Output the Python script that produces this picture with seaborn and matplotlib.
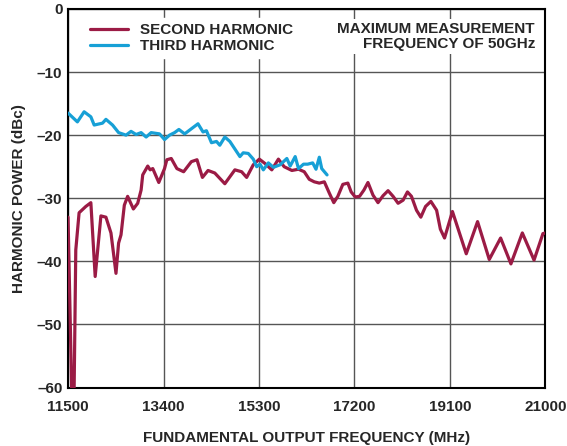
import numpy as np
import pandas as pd
import seaborn as sns
import matplotlib.pyplot as plt

# ─────────────────────────────────────────
# DATA
# ─────────────────────────────────────────
freq_2nd = [11500, 11574, 11620, 11654, 11720, 11854, 11954, 12040, 12154, 12254,
            12354, 12454, 12506, 12554, 12620, 12686, 12800, 12886, 12954, 12986,
            13086, 13134, 13186, 13306, 13420, 13466, 13554, 13666, 13800, 13954,
            14066, 14174, 14286, 14420, 14620, 14820, 14954, 15054, 15186, 15306,
            15420, 15554, 15686, 15800, 15954, 16086, 16200, 16300, 16400, 16500,
            16600, 16700, 16788, 16868, 16968, 17068, 17134, 17214, 17300, 17388,
            17468, 17568, 17668, 17768, 17868, 17968, 18068, 18168, 18254, 18334,
            18434, 18520, 18614, 18720, 18834, 18909, 18992, 19149, 19424, 19649,
            19882, 20108, 20313, 20540, 20773, 20950, 21000]
power_2nd = [-33.0, -61.0, -61.0, -38.2, -32.3, -31.3, -30.7, -42.4, -32.8, -33.0,
             -35.5, -41.9, -37.1, -35.8, -31.1, -29.7, -31.7, -30.8, -28.7, -26.3,
             -24.9, -25.5, -25.3, -27.5, -25.3, -23.9, -23.7, -25.3, -25.8, -24.2,
             -23.9, -26.7, -25.6, -26.0, -27.7, -25.5, -25.8, -26.7, -24.7, -23.8,
             -24.5, -25.5, -23.8, -25.0, -25.6, -25.4, -25.8, -27.0, -27.4, -27.6,
             -27.4, -29.2, -30.7, -29.7, -27.8, -27.6, -29.0, -29.8, -29.7, -28.7,
             -27.5, -29.5, -30.7, -29.6, -28.8, -29.7, -30.8, -30.3, -29.0, -29.7,
             -31.9, -33.0, -31.3, -30.5, -31.9, -34.9, -36.3, -32.1, -38.8, -33.7,
             -39.7, -36.3, -40.4, -35.5, -39.8, -35.6, -35.5]

freq_3rd = [11500, 11686, 11820, 11954, 12020, 12186, 12254, 12386, 12506, 12654,
            12754, 12854, 12954, 13054, 13154, 13320, 13420, 13520, 13620, 13706,
            13820, 13986, 14086, 14186, 14254, 14354, 14454, 14520, 14620, 14720,
            14920, 14986, 15086, 15186, 15254, 15320, 15386, 15486, 15586, 15720,
            15854, 15920, 16020, 16086, 16186, 16268, 16368, 16434, 16500, 16548,
            16654]
power_3rd = [-16.5, -17.9, -16.3, -17.1, -18.4, -18.1, -17.5, -18.4, -19.6, -20.0,
             -19.4, -19.9, -19.6, -20.3, -19.6, -19.8, -20.7, -20.0, -19.6, -19.1,
             -19.8, -18.8, -18.2, -19.5, -19.3, -21.2, -21.0, -21.6, -20.3, -21.0,
             -23.4, -22.8, -22.9, -23.8, -25.0, -24.6, -25.5, -24.4, -25.1, -24.7,
             -23.7, -24.9, -23.4, -25.3, -24.6, -24.6, -24.4, -25.4, -23.5, -25.3,
             -26.3]

series_names = ["SECOND HARMONIC", "THIRD HARMONIC"]
x_ticks = [11500, 13400, 15300, 17200, 19100, 21000]
y_ticks = [0, -10, -20, -30, -40, -50, -60]

df = pd.concat([
    pd.DataFrame({"freq": freq_2nd, "power": power_2nd, "series": series_names[0]}),
    pd.DataFrame({"freq": freq_3rd, "power": power_3rd, "series": series_names[1]}),
], ignore_index=True)

# ─────────────────────────────────────────
# PLOT
# ─────────────────────────────────────────
sns.set_style("white")
plt.rcParams["font.family"] = ["Liberation Sans", "DejaVu Sans"]
plt.rcParams["font.weight"] = "bold"
FS = 11

fig = plt.figure(figsize=(5.67, 4.46), dpi=100)
ax = fig.add_axes([0.12, 0.131, 0.842, 0.849])

palette = {series_names[0]: "#9b1b45", series_names[1]: "#17a0d6"}
sns.lineplot(data=df, x="freq", y="power", hue="series", palette=palette,
             estimator=None, sort=False, linewidth=2.3, ax=ax, zorder=3)
for ln in ax.get_lines():
    ln.set_solid_joinstyle("round")

ax.set_xlim(11500, 21000)
ax.set_ylim(-60, 0)
ax.set_xticks(x_ticks)
ax.set_yticks(y_ticks)
ax.set_xticklabels([str(t) for t in x_ticks], fontsize=FS, fontweight="bold")
ax.set_yticklabels([str(t).replace("-", "\u2013") for t in y_ticks],
                   fontsize=FS, fontweight="bold")
ax.tick_params(axis="x", length=0, pad=9)
ax.tick_params(axis="y", length=0, pad=4)
ax.grid(True, color="#555555", linewidth=1.0)
ax.set_axisbelow(True)
for sp in ax.spines.values():
    sp.set_color("black")
    sp.set_linewidth(1.5)

ax.set_xlabel("FUNDAMENTAL OUTPUT FREQUENCY (MHz)", fontsize=FS,
              fontweight="bold", labelpad=12)
ax.set_ylabel("HARMONIC POWER (dBc)", fontsize=FS, fontweight="bold", labelpad=8)

handles, labels = ax.get_legend_handles_labels()
leg = ax.legend(handles, labels, loc="upper left", bbox_to_anchor=(0.02, 0.995),
                frameon=True, fancybox=False, handlelength=2.5, handletextpad=0.8,
                labelspacing=0.15, borderpad=0.3, prop={"size": FS, "weight": "bold"})
leg.get_frame().set_facecolor("white")
leg.get_frame().set_edgecolor("white")
leg.get_frame().set_alpha(1.0)
leg.set_zorder(5)

ax.text(0.978, 0.966, "MAXIMUM MEASUREMENT\nFREQUENCY OF 50GHz", transform=ax.transAxes,
        ha="right", va="top", fontsize=FS, fontweight="bold", linespacing=1.1,
        bbox=dict(facecolor="white", edgecolor="none", pad=2), zorder=5)

plt.savefig("out.png", dpi=100)
